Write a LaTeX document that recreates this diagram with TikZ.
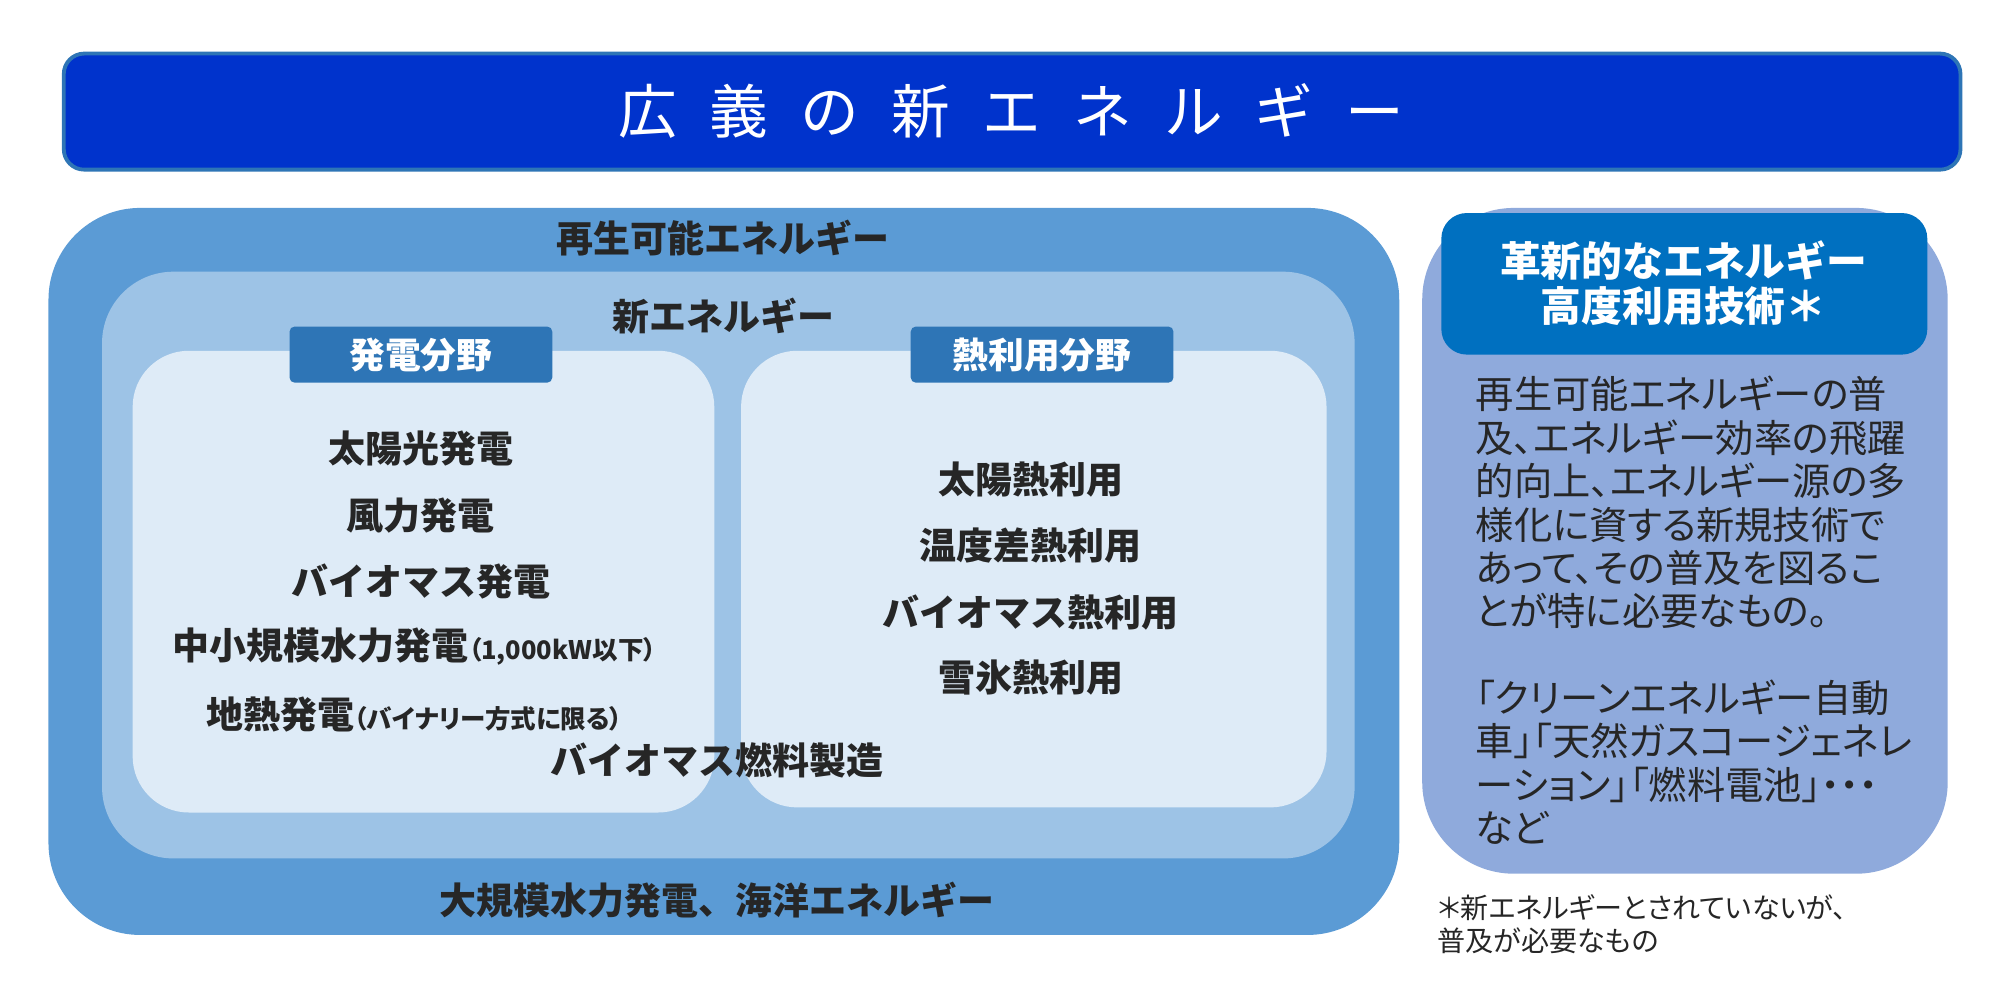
\documentclass[tikz,border=0pt]{standalone}
\usepackage{fontspec}
\setmainfont{Noto Sans CJK JP}
\newfontfamily\descfont[RawFeature=+palt]{Noto Sans CJK JP}
\definecolor{titleblue}{HTML}{0033CC}
\definecolor{outerblue}{HTML}{5B9BD5}
\definecolor{midblue}{HTML}{9DC3E6}
\definecolor{paleblue}{HTML}{DEEBF7}
\definecolor{tabblue}{HTML}{2E75B6}
\definecolor{sideblue}{HTML}{8FAADC}
\definecolor{headblue}{HTML}{0070C0}
\definecolor{inkdark}{HTML}{262626}
\tikzset{
  item/.style={font=\fontsize{14.5}{18}\selectfont\bfseries, text=inkdark},
  tabbox/.style={fill=tabblue, rounded corners=2pt, text=white, font=\fontsize{14}{16}\selectfont\bfseries},
  panel/.style={rounded corners=#1}
}
\begin{document}
\begin{tikzpicture}[x=0.5pt,y=0.5pt,yscale=-1]
\useasboundingbox (0,0) rectangle (1568,787);

% title
\draw[fill=titleblue, draw=tabblue, line width=1.5pt, rounded corners=8pt] (50,42) rectangle (1537,133);
\node[text=white, font=\fontsize{23}{26}\selectfont] (title) at (793,87) {広\hspace{0.55em}義\hspace{0.55em}の\hspace{0.55em}新\hspace{0.55em}エ\hspace{0.55em}ネ\hspace{0.55em}ル\hspace{0.55em}ギ\hspace{0.55em}ー};

% nested areas
\fill[outerblue, panel=36pt] (38,163) rectangle (1097,733);
\fill[midblue, panel=28pt] (80,213) rectangle (1062,673);
\fill[paleblue, panel=22pt] (104,275) rectangle (560,637);
\fill[paleblue, panel=22pt] (581,275) rectangle (1040,633);

\node[item] (renew) at (567,187) {再生可能エネルギー};
\node[item] (newen) at (567,248) {新エネルギー};

\node[tabbox, minimum width=103pt, minimum height=22pt] (power) at (330,278) {発電分野};
\node[tabbox, minimum width=103pt, minimum height=22pt] (heat) at (817,278) {熱利用分野};

% power generation
\node[item] (solarpv) at (330,352) {太陽光発電};
\node[item] (wind) at (330,404) {風力発電};
\node[item] (biopow) at (330,456) {バイオマス発電};
\node[item] (hydro) at (325,507) {中小規模水力発電{\descfont\fontsize{10}{12}\selectfont（1,000kW以下）}};
\node[item] (geo) at (325,560) {地熱発電{\descfont\fontsize{10}{12}\selectfont（バイナリー方式に限る）}};
\node[item] (biofuel) at (562,596) {バイオマス燃料製造};

% heat use
\node[item] (solarth) at (808,376) {太陽熱利用};
\node[item] (tempdiff) at (808,428) {温度差熱利用};
\node[item] (bioheat) at (808,480) {バイオマス熱利用};
\node[item] (snow) at (808,531) {雪氷熱利用};

\node[item] (large) at (562,706) {大規模水力発電、海洋エネルギー};

% innovative technology
\fill[sideblue, panel=36pt] (1115,163) rectangle (1527,685);
\fill[headblue, panel=10pt] (1130,167) rectangle (1511,278);
\node[text=white, align=center, font=\fontsize{16}{18}\selectfont\bfseries] (innov) at (1320,222) {革新的なエネルギー\\高度利用技術＊};
\node[anchor=north west, align=left, text=inkdark, font=\descfont\fontsize{15}{17}\selectfont] (desc) at (1150,288)
  {再生可能エネルギーの普\\及、エネルギー効率の飛躍\\的向上、エネルギー源の多\\様化に資する新規技術で\\あって、その普及を図るこ\\とが特に必要なもの。\\[17pt]「クリーンエネルギー自動\\車」「天然ガスコージェネレ\\ーション」「燃料電池」・・・\\など};
\node[anchor=north west, align=left, text=inkdark, font=\descfont\fontsize{11}{13}\selectfont] (note) at (1120,694)
  {＊新エネルギーとされていないが、\\普及が必要なもの};
\end{tikzpicture}
\end{document}
